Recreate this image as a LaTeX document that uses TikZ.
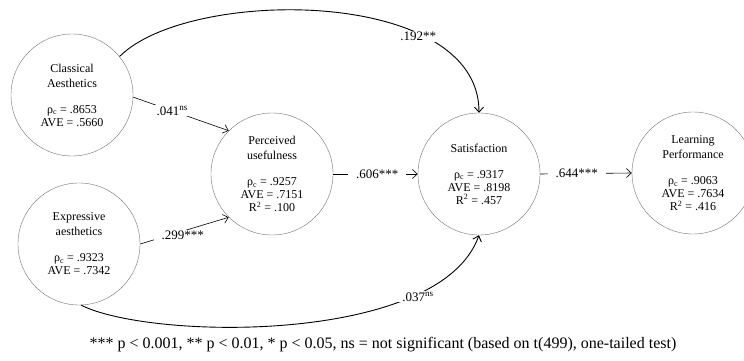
\documentclass[tikz,border=0pt]{standalone}
\usepackage{fontspec}
\setmainfont{Liberation Serif}
\usetikzlibrary{arrows.meta}
\tikzset{
  construct/.style={circle, draw=black!55, line width=0.4pt, minimum size=122pt,
                    inner sep=0pt, align=center, font=\fontsize{12}{13}\selectfont},
  link/.style={-{Straight Barb[length=5pt,width=9pt]}, line width=0.6pt},
  curvelink/.style={link, line width=0.9pt},
  coef/.style={fill=white, inner xsep=8pt, inner ysep=1pt, font=\fontsize{13}{14}\selectfont},
}

\begin{document}
\begin{tikzpicture}[x=1pt, y=1pt]
  \useasboundingbox (0,0) rectangle (744,361);

  % constructs
  \node[construct] (cla) at (72,266)
    {Classical\\[2pt]Aesthetics\\[13pt]ρ\textsubscript{c} = .8653\\AVE = .5660};
  \node[construct] (exp) at (79,117)
    {Expressive\\[2pt]aesthetics\\[13pt]ρ\textsubscript{c} = .9323\\AVE = .7342};
  \node[construct] (pu) at (272,187)
    {Perceived\\[2pt]usefulness\\[13pt]ρ\textsubscript{c} = .9257\\AVE = .7151\\R\textsuperscript{2} = .100};
  \node[construct] (sat) at (479,187)
    {Satisfaction\\[13pt]ρ\textsubscript{c} = .9317\\AVE = .8198\\R\textsuperscript{2} = .457};
  \node[construct] (lp) at (693,188)
    {Learning\\[2pt]Performance\\[13pt]ρ\textsubscript{c} = .9063\\AVE = .7634\\R\textsuperscript{2} = .416};

  % paths
  \draw[link] (cla.-2) -- node[coef, pos=0.41] {.041\textsuperscript{ns}} (pu.135);
  \draw[link] (exp.0) -- node[coef, pos=0.48, yshift=-4pt] {.299***} (pu.225);
  \draw[link] (pu.east) -- node[coef, pos=0.52] {.606***} (sat.west);
  \draw[link] (sat.east) -- node[coef, pos=0.4] {.644***} (lp.west);

  \draw[curvelink] (cla.39) .. controls (189,374) and (479,374) ..
    node[coef, pos=0.71, yshift=-3pt] {.192**} (sat.north);
  \draw[curvelink] (exp.-88) .. controls (150,21) and (440,16) ..
    node[coef, pos=0.77, yshift=-3pt] {.037\textsuperscript{ns}} (sat.south);

  \node[font=\fontsize{16}{18}\selectfont] (note) at (383,16)
    {*** p < 0.001, ** p < 0.01, * p < 0.05, ns = not significant (based on t(499), one-tailed test)};
\end{tikzpicture}
\end{document}
